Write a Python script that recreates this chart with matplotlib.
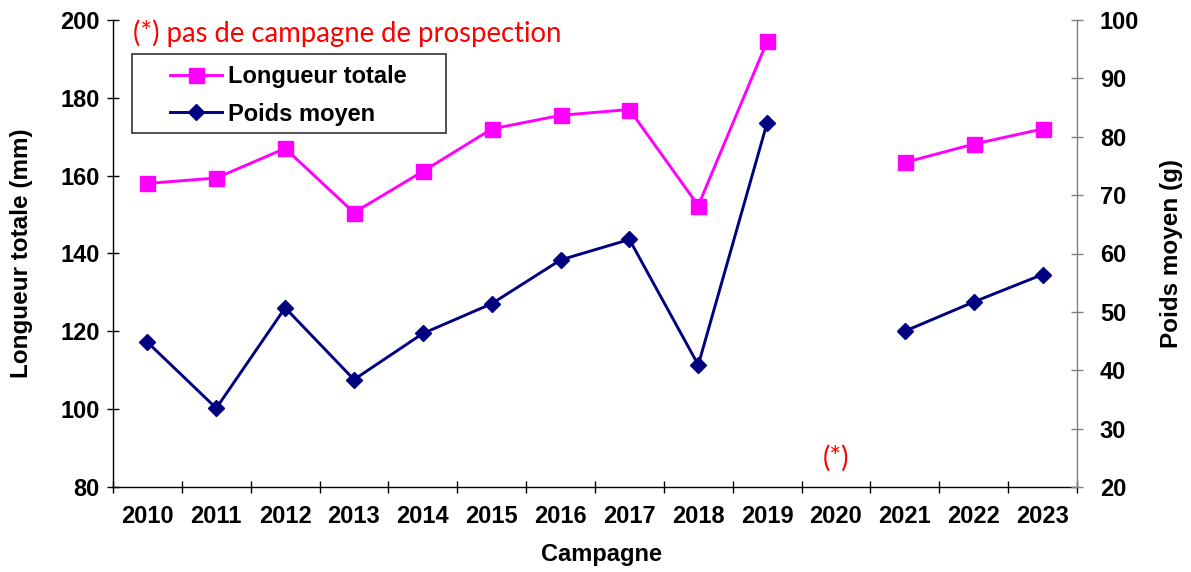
import numpy as np
import matplotlib
matplotlib.use("Agg")
import matplotlib.pyplot as plt
from matplotlib.patches import Rectangle

# Campaign years and measurements (2020: no survey campaign)
years = ["2010", "2011", "2012", "2013", "2014", "2015", "2016",
         "2017", "2018", "2019", "2020", "2021", "2022", "2023"]
longueur_totale = [158.0, 159.4, 167.0, 150.5, 161.1, 172.0, 175.5,
                   177.0, 152.3, 194.5, np.nan, 163.4, 168.1, 172.0]
poids_moyen = [44.8, 33.5, 50.7, 38.4, 46.3, 51.4, 58.9,
               62.4, 40.9, 82.4, np.nan, 46.7, 51.7, 56.4]

left_ticks = [80, 100, 120, 140, 160, 180, 200]
right_ticks = [20, 30, 40, 50, 60, 70, 80, 90, 100]

MAGENTA = "#FF00FF"
NAVY = "#000080"
BOLD = dict(family="Liberation Sans", weight="bold")
RED_FONT = dict(family="Lato", color="#FF0000")

plt.rcParams["font.family"] = "Liberation Sans"

W, H = 1191, 572
fig = plt.figure(figsize=(W / 100, H / 100), dpi=100)
x0, x1, y0, y1 = 113, 1077, 20, 487
ax = fig.add_axes([x0 / W, 1 - y1 / H, (x1 - x0) / W, (y1 - y0) / H])
ax2 = ax.twinx()

x = np.arange(len(years))

ax.plot(x, longueur_totale, color=MAGENTA, lw=2.1, marker="s", ms=10.8,
        mec=MAGENTA, mfc=MAGENTA, label="Longueur totale", zorder=3)
ax2.plot(x, poids_moyen, color=NAVY, lw=2.1, marker="D", ms=8,
         mec=NAVY, mfc=NAVY, label="Poids moyen", zorder=3)

# Axes limits and ticks
ax.set_xlim(-0.5, len(years) - 0.5)
ax.set_ylim(80, 200)
ax2.set_ylim(20, 100)
ax.set_yticks(left_ticks)
ax2.set_yticks(right_ticks)

ax.set_xticks(np.arange(-0.5, len(years), 1.0))
ax.set_xticklabels([])
ax.set_xticks(x, minor=True)
ax.set_xticklabels(years, minor=True, fontsize=17, **BOLD)
ax.tick_params(axis="x", which="major", direction="inout", length=9,
               width=1, color="black")
ax.tick_params(axis="x", which="minor", length=0, pad=13)
ax.tick_params(axis="y", direction="inout", length=9, width=1,
               color="black", pad=5, labelsize=17)
ax2.tick_params(axis="y", direction="inout", length=9, width=1,
                color="#808080", pad=12, labelsize=17)
for lbl in ax.get_yticklabels() + ax2.get_yticklabels():
    lbl.set_fontweight("bold")

ax.spines["top"].set_visible(False)
ax2.spines["top"].set_visible(False)
ax.spines["right"].set_visible(False)
ax2.spines["left"].set_visible(False)
ax2.spines["bottom"].set_visible(False)
ax.spines["left"].set_color("black")
ax.spines["bottom"].set_color("black")
ax2.spines["right"].set_color("#808080")
for s in ("left", "bottom"):
    ax.spines[s].set_linewidth(1)
ax2.spines["right"].set_linewidth(1)

# Axis titles
ax.set_ylabel("Longueur totale (mm)", fontsize=17.5, va="center", **BOLD)
ax.yaxis.set_label_coords((22 - x0) / (x1 - x0), 0.5)
ax2.set_ylabel("Poids moyen (g)", fontsize=17.5, va="center", rotation=90, **BOLD)
ax2.yaxis.set_label_coords((1172 - x0) / (x1 - x0), 0.5)
ax.set_xlabel("Campagne", fontsize=17, va="center", **BOLD)
ax.xaxis.set_label_coords((601 - x0) / (x1 - x0), (y1 - 555) / (y1 - y0))

# Notes about the missing campaign
ax.text((133 - x0) / (x1 - x0), 1 - (33 - y0) / (y1 - y0),
        "(*) pas de campagne de prospection", transform=ax.transAxes,
        ha="left", va="center", fontsize=19.8, **RED_FONT)
ax.text(years.index("2020"), 87.5, "(*)", ha="center", va="center",
        fontsize=19.8, **RED_FONT)

# Legend with its own rectangular frame
frame = Rectangle(((132 - x0) / (x1 - x0), 1 - (133 - y0) / (y1 - y0)),
                  (446 - 132) / (x1 - x0), (133 - 54) / (y1 - y0),
                  transform=ax2.transAxes, facecolor="white",
                  edgecolor="#333333", lw=1.2, zorder=4)
ax2.add_patch(frame)
h1, l1 = ax.get_legend_handles_labels()
h2, l2 = ax2.get_legend_handles_labels()
leg = ax2.legend(h1 + h2, l1 + l2, loc="upper left",
                 bbox_to_anchor=((170 - x0) / (x1 - x0), 1 - (65 - y0) / (y1 - y0)),
                 bbox_transform=ax2.transAxes, frameon=False, borderpad=0,
                 borderaxespad=0, handlelength=2.2, handletextpad=0.25,
                 labelspacing=0.62, prop=dict(size=17, **BOLD))
leg.set_zorder(5)

fig.savefig("out.png", dpi=100)
